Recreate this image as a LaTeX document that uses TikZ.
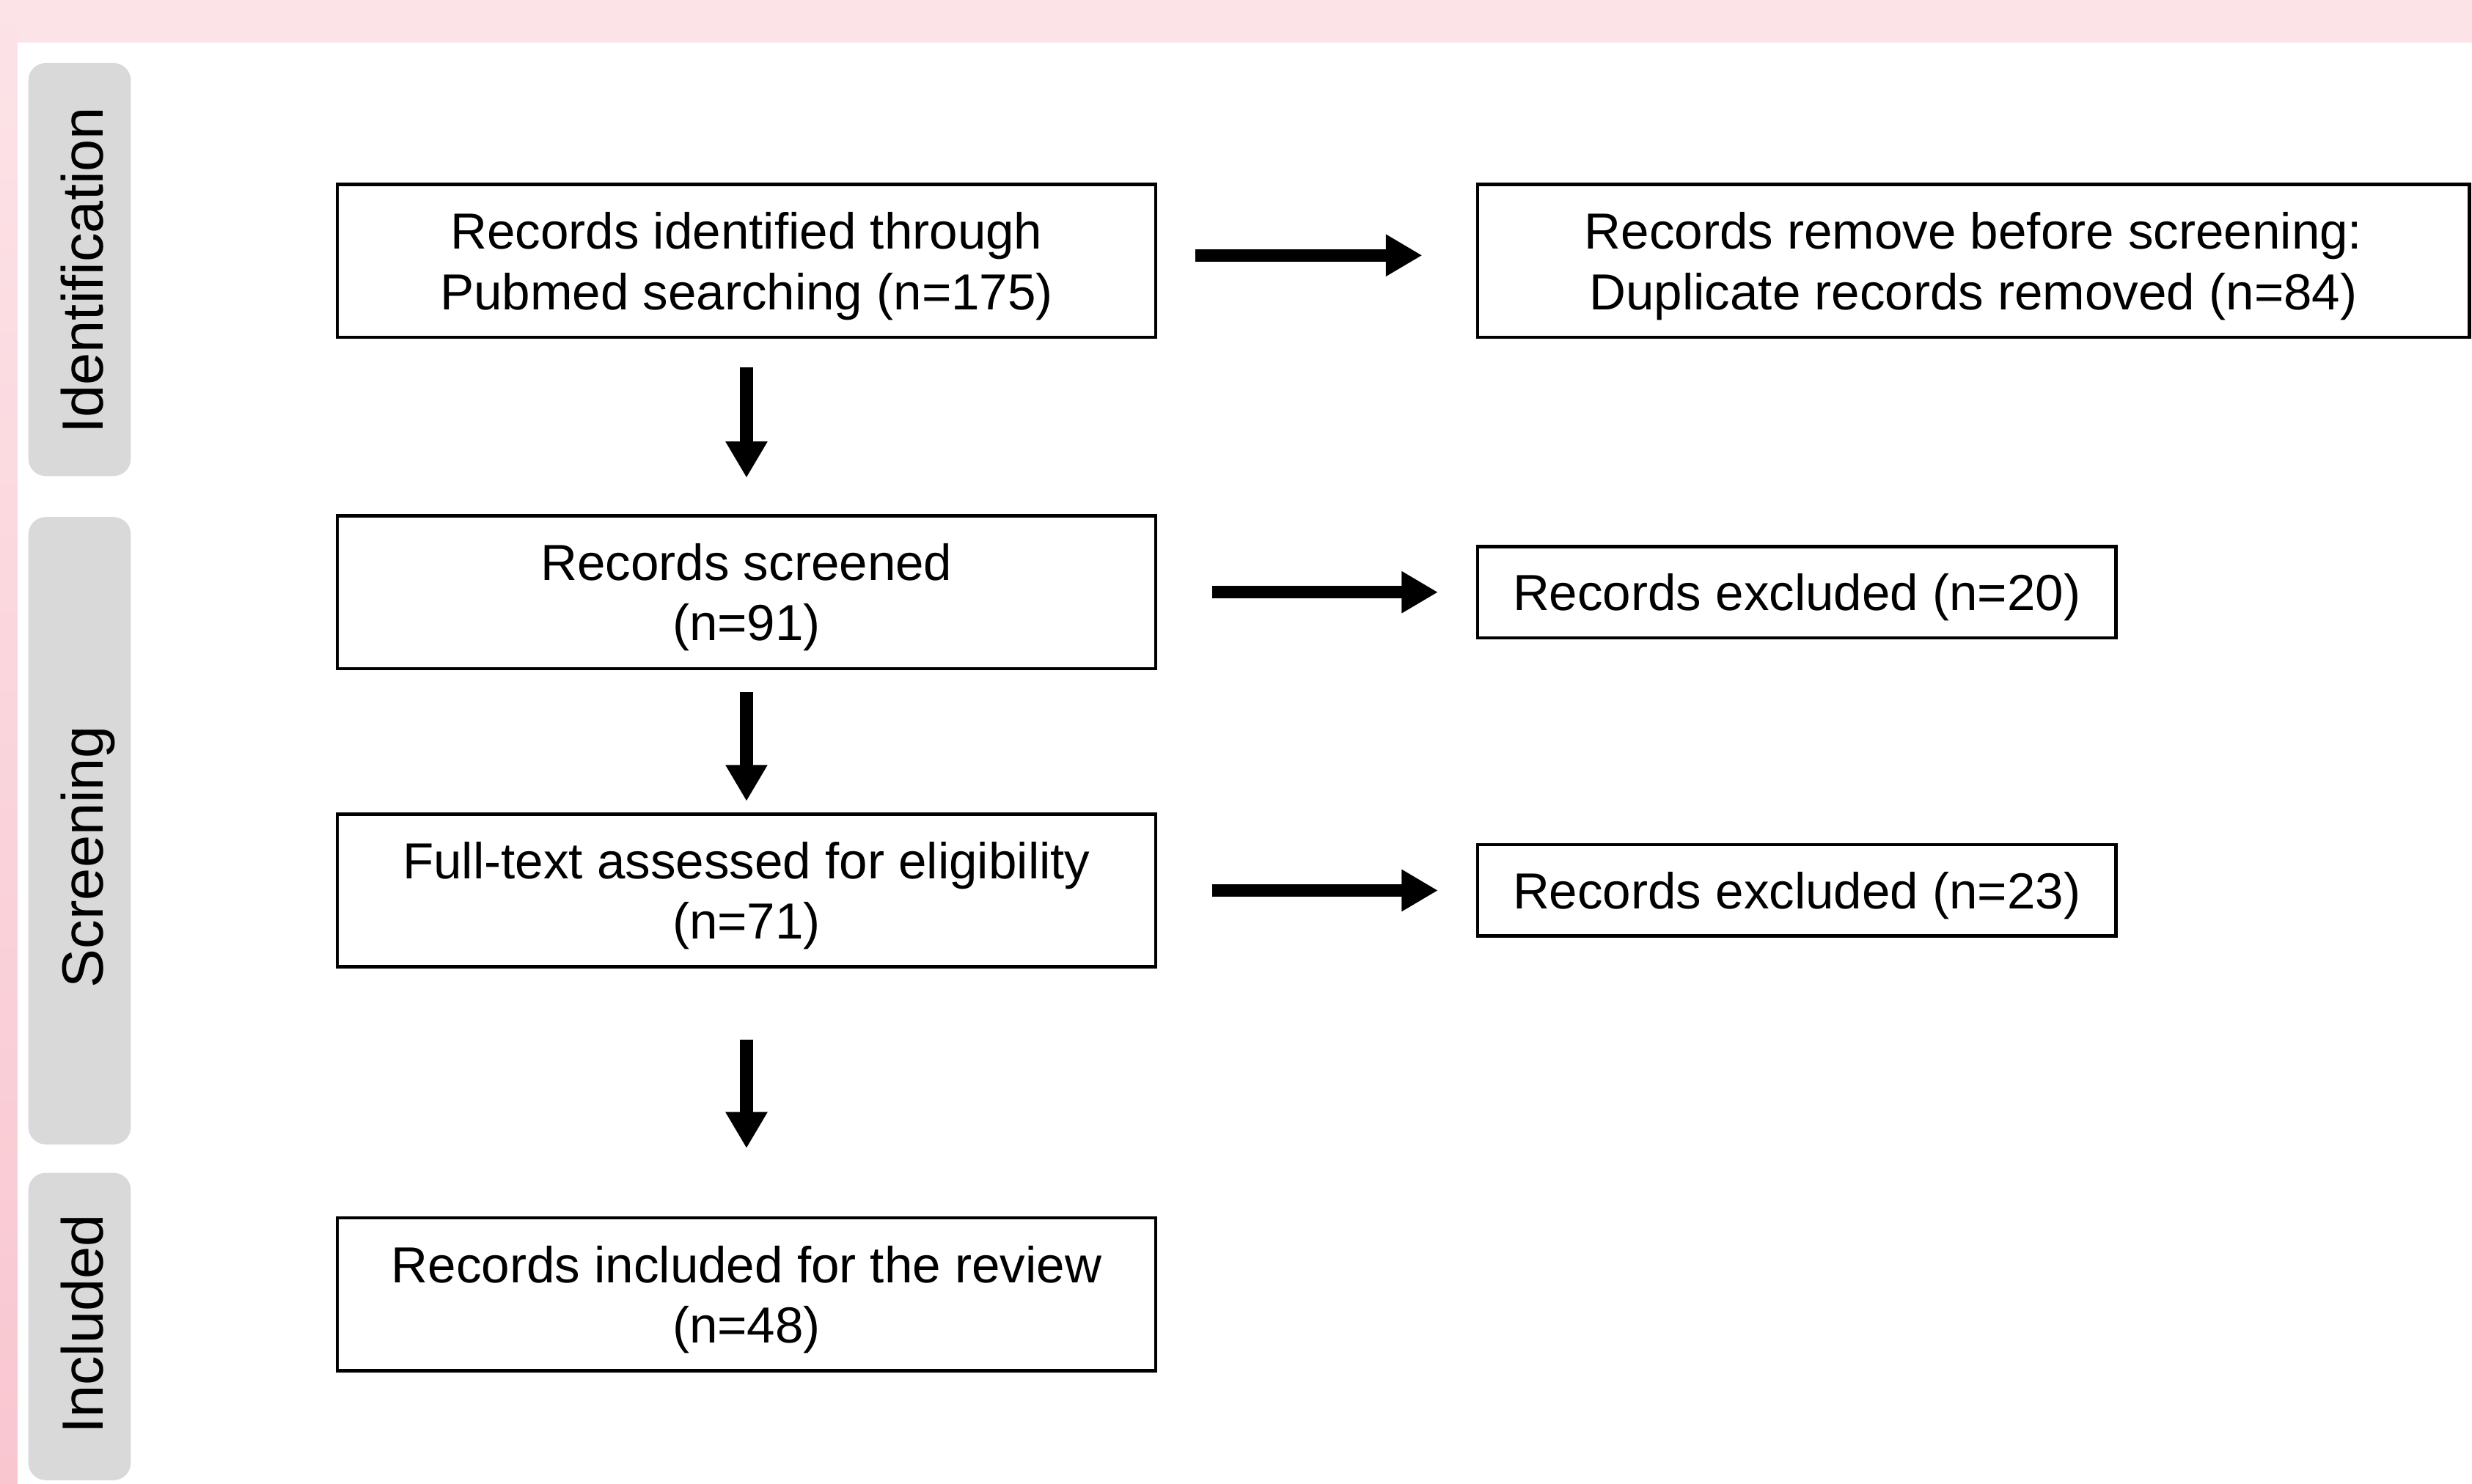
\documentclass[tikz,border=0pt]{standalone}
\usepackage{fontspec}
\setmainfont{Liberation Sans}
\usepackage{tikz}
\usetikzlibrary{arrows.meta,positioning,shapes}

\definecolor{tabgray}{HTML}{D9D9D9}
\definecolor{pinktop}{HTML}{FCE3E7}
\definecolor{pinkside}{HTML}{F9C6D0}

\begin{document}
\begin{tikzpicture}
[ node distance=2.22cm and 4.04cm,
		record/.style={rectangle,draw,line width=1.25pt,minimum width=10.38cm,minimum height=1.94cm,align=center,text depth=0pt,font=\fontsize{18.3}{21.8}\selectfont},
		removed/.style={record,minimum width=12.58cm},
		excluded/.style={record,minimum width=8.10cm,minimum height=1.16cm},
		phase/.style={rotate=90,text depth=0pt,font=\fontsize{21}{25}\selectfont},
		tab/.style={fill=tabgray,rounded corners=0.22cm},
		arrowOut/.style={-{Triangle[length=0.46cm,width=0.50cm]},line width=0.16cm}]

	% page with the pink edge
	\useasboundingbox (0,0) rectangle (31.36,-18.82);
	\shade[top color=pinktop,bottom color=pinkside] (0,0) rectangle (0.22,-18.82);
	\fill[pinktop] (0.22,0) rectangle (31.36,-0.54);

	% phase tabs
	\fill[tab] (0.36,-0.80) rectangle (1.66,-6.04);
	\fill[tab] (0.36,-6.56) rectangle (1.66,-14.52);
	\fill[tab] (0.36,-14.88) rectangle (1.66,-18.78);
	\node[phase] (identification) at (1.04,-3.43) {Identification};
	\node[phase] (screening) at (1.04,-10.87) {Screening};
	\node[phase] (included phase) at (1.04,-16.80) {Included};

	\node[record] (identified) at (9.47,-3.31) {Records identified through\\Pubmed searching (n=175)};
	\node[removed] (duplicates) [right=of identified] {Records remove before screening:\\Duplicate records removed (n=84)};
	\node[record] (screened) [below=of identified] {Records screened\\(n=91)};
	\node[excluded] (first excluded) [right=of screened] {Records excluded (n=20)};
	\node[record] (full text) [below=1.80cm of screened] {Full-text assessed for eligibility\\(n=71)};
	\node[excluded] (second excluded) [right=of full text] {Records excluded (n=23)};
	\node[record] (included) [below=3.14cm of full text] {Records included for the review\\(n=48)};

	\draw[arrowOut,shorten <=0.48cm,shorten >=0.68cm] ([yshift=0.07cm]identified.east) -- ([yshift=0.07cm]duplicates.west);
	\draw[arrowOut,shorten <=0.70cm,shorten >=0.48cm] (screened) -- (first excluded);
	\draw[arrowOut,shorten <=0.70cm,shorten >=0.48cm] (full text) -- (second excluded);
	\draw[arrowOut,shorten <=0.36cm,shorten >=0.46cm] (identified) -- (screened);
	\draw[arrowOut,shorten <=0.28cm,shorten >=0.14cm] (screened) -- (full text);
	\draw[arrowOut,shorten <=0.90cm,shorten >=0.86cm] (full text) -- (included);
\end{tikzpicture}
\end{document}
